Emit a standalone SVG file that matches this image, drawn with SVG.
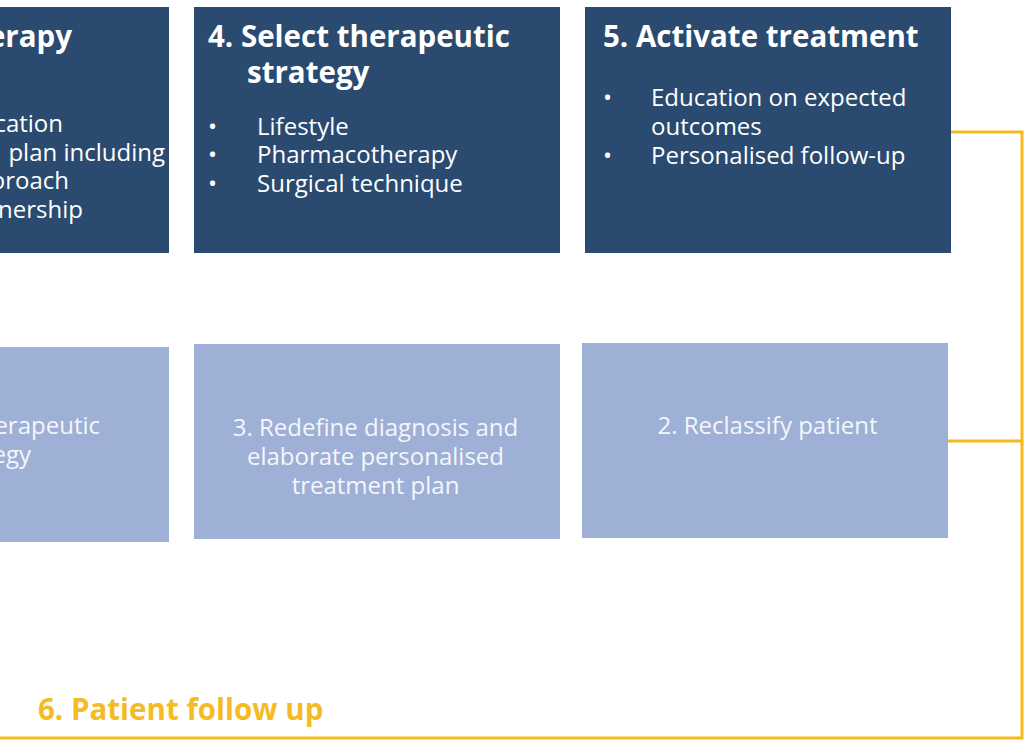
<svg xmlns="http://www.w3.org/2000/svg" width="1024" height="740" viewBox="0 0 1024 740">
  <style>
    .dark { fill: #2A4A70; }
    .light { fill: #9EB0D6; }
    .title { font-family: "Open Sans", "Noto Sans", sans-serif; font-weight: 700; font-size: 29.5px; fill: #FFFFFF; }
    .body { font-family: "Open Sans", "Noto Sans", sans-serif; font-size: 24px; fill: #FFFFFF; }
    .soft { font-family: "Open Sans", "Noto Sans", sans-serif; font-size: 24px; fill: #F4F6FB; }
    .loop { fill: none; stroke: #F5B921; stroke-width: 3; }
    .loopLabel { font-family: "Open Sans", "Noto Sans", sans-serif; font-weight: 700; font-size: 29.5px; fill: #F5BB25; }
  </style>
  <rect width="1024" height="740" fill="#FFFFFF"/>

  <!-- top row: dark steps -->
  <g id="step-therapy">
    <rect class="dark" x="-200" y="7" width="369" height="246"/>
    <text class="title" x="72" y="47" text-anchor="end">erapy</text>
    <text class="body" x="63" y="132" text-anchor="end">cation</text>
    <text class="body" x="165" y="161" text-anchor="end">plan including</text>
    <text class="body" x="69" y="189" text-anchor="end">proach</text>
    <text class="body" x="83" y="218" text-anchor="end">nership</text>
  </g>

  <g id="step-4">
    <rect class="dark" x="194" y="7" width="366" height="246"/>
    <text class="title" x="208" y="47">4. Select therapeutic</text>
    <text class="title" x="247" y="83">strategy</text>
    <text class="body" x="208" y="135">•</text>
    <text class="body" x="257" y="135">Lifestyle</text>
    <text class="body" x="208" y="163">•</text>
    <text class="body" x="257" y="163">Pharmacotherapy</text>
    <text class="body" x="208" y="192">•</text>
    <text class="body" x="257" y="192">Surgical technique</text>
  </g>

  <g id="step-5">
    <rect class="dark" x="585" y="7" width="366" height="246"/>
    <text class="title" x="603" y="47">5. Activate treatment</text>
    <text class="body" x="603" y="106">•</text>
    <text class="body" x="651" y="106">Education on expected</text>
    <text class="body" x="651" y="135">outcomes</text>
    <text class="body" x="603" y="164">•</text>
    <text class="body" x="651" y="164">Personalised follow-up</text>
  </g>

  <!-- bottom row: light steps -->
  <g id="step-strategy">
    <rect class="light" x="-200" y="347" width="369" height="195"/>
    <text class="soft" x="100" y="434" text-anchor="end">erapeutic</text>
    <text class="soft" x="31" y="463" text-anchor="end">egy</text>
  </g>

  <g id="step-3">
    <rect class="light" x="194" y="344" width="366" height="195"/>
    <text class="soft" x="375.5" y="436" text-anchor="middle">3. Redefine diagnosis and</text>
    <text class="soft" x="375.5" y="465" text-anchor="middle">elaborate personalised</text>
    <text class="soft" x="375.5" y="494" text-anchor="middle">treatment plan</text>
  </g>

  <g id="step-2">
    <rect class="light" x="582" y="343" width="366" height="195"/>
    <text class="soft" x="767.5" y="434" text-anchor="middle">2. Reclassify patient</text>
  </g>

  <!-- follow-up loop -->
  <g id="connectors">
    <polyline class="loop" points="951,132 1022,132 1022,738 0,738"/>
    <line class="loop" x1="948" y1="441" x2="1022" y2="441"/>
  </g>
  <g id="label-follow-up">
    <text class="loopLabel" x="38" y="720">6. Patient follow up</text>
  </g>
</svg>
